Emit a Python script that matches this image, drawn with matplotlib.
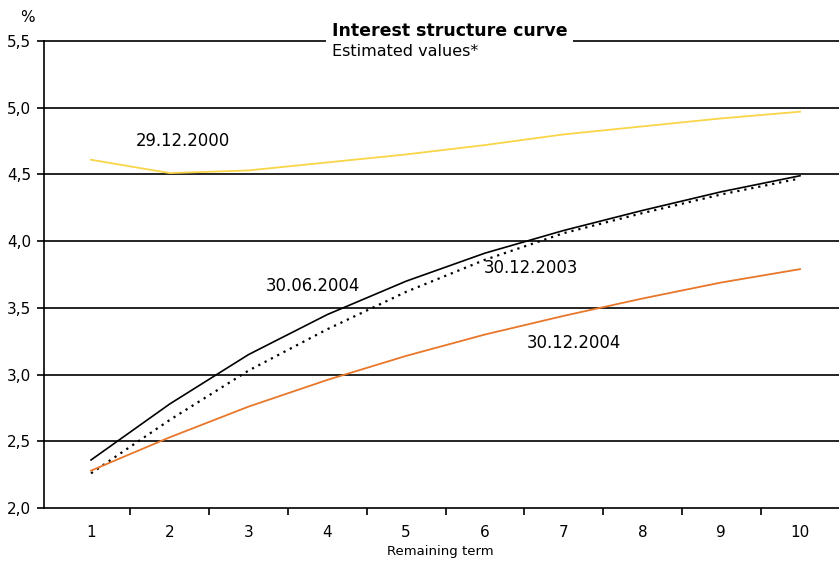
import numpy as np
import matplotlib
matplotlib.use("Agg")
from matplotlib import pyplot as plt
from matplotlib.ticker import FuncFormatter, FixedLocator

# data
terms = [1, 2, 3, 4, 5, 6, 7, 8, 9, 10]
curve_2000 = [4.61, 4.51, 4.53, 4.59, 4.65, 4.72, 4.80, 4.86, 4.92, 4.97]
curve_2004_06 = [2.36, 2.78, 3.15, 3.45, 3.70, 3.91, 4.08, 4.23, 4.37, 4.49]
curve_2003_12 = [2.26, 2.66, 3.03, 3.34, 3.62, 3.86, 4.06, 4.21, 4.35, 4.47]
curve_2004_12 = [2.28, 2.53, 2.76, 2.96, 3.14, 3.30, 3.44, 3.57, 3.69, 3.79]
y_ticks = [2.0, 2.5, 3.0, 3.5, 4.0, 4.5, 5.0, 5.5]

plt.rcParams['font.family'] = ['DejaVu Sans']

W, H = 839, 562
fig = plt.figure(figsize=(W / 100, H / 100), dpi=100)
ax = fig.add_axes([44 / W, 1 - 508 / H, (839 - 44) / W, (508 - 41) / H])

# grid lines in black
for yv in y_ticks[1:]:
    ax.axhline(yv, color='black', lw=1.2, zorder=1, clip_on=False)

ax.plot(terms, curve_2000, color='#F9D548', lw=1.3, zorder=3)
ax.plot(terms, curve_2004_06, color='black', lw=1.2, zorder=3)
ax.plot(terms, curve_2003_12, color='black', lw=1.6, ls=(0, (1, 2.2)), zorder=3)
ax.plot(terms, curve_2004_12, color='#E8772A', lw=1.3, zorder=3)

ax.set_xlim(0.403, 10.495)
ax.set_ylim(2.0, 5.5)

for s in ['top', 'right']:
    ax.spines[s].set_visible(False)
ax.spines['left'].set_linewidth(1.2)
ax.spines['bottom'].set_linewidth(1.2)

ax.set_yticks(y_ticks)
ax.yaxis.set_major_formatter(FuncFormatter(lambda v, p: f"{v:.1f}".replace('.', ',')))
ax.tick_params(axis='y', length=5, width=1.2, direction='out', labelsize=11, pad=4)

ax.set_xticks(terms)
ax.set_xticklabels([str(t) for t in terms])
ax.xaxis.set_minor_locator(FixedLocator(np.arange(1.5, 10.0, 1.0)))
ax.tick_params(axis='x', which='major', length=0, labelsize=11, pad=12)
ax.tick_params(axis='x', which='minor', length=5, width=1.2, direction='out')

# series labels
ax.text(136 / W, 1 - 141 / H, '29.12.2000', transform=fig.transFigure, fontsize=11.9, va='center')
ax.text(266 / W, 1 - 286 / H, '30.06.2004', transform=fig.transFigure, fontsize=11.9, va='center')
ax.text(484 / W, 1 - 268 / H, '30.12.2003', transform=fig.transFigure, fontsize=11.9, va='center')
ax.text(527 / W, 1 - 343 / H, '30.12.2004', transform=fig.transFigure, fontsize=11.9, va='center')

# title block, white box breaks the top grid line
fig.text(332 / W, 1 - 31 / H, 'Interest structure curve', fontsize=12.5, fontweight='bold',
         va='center', ha='left', zorder=5,
         bbox=dict(facecolor='white', edgecolor='none', pad=4))
fig.text(332 / W, 1 - 51 / H, 'Estimated values*', fontsize=11.5, va='center', ha='left', zorder=6)
fig.text(20 / W, 1 - 18 / H, '%', fontsize=11, va='center', ha='left')
fig.text(440 / W, 1 - 552 / H, 'Remaining term', fontsize=9.5, va='center', ha='center')

fig.savefig('out.png', dpi=100)
